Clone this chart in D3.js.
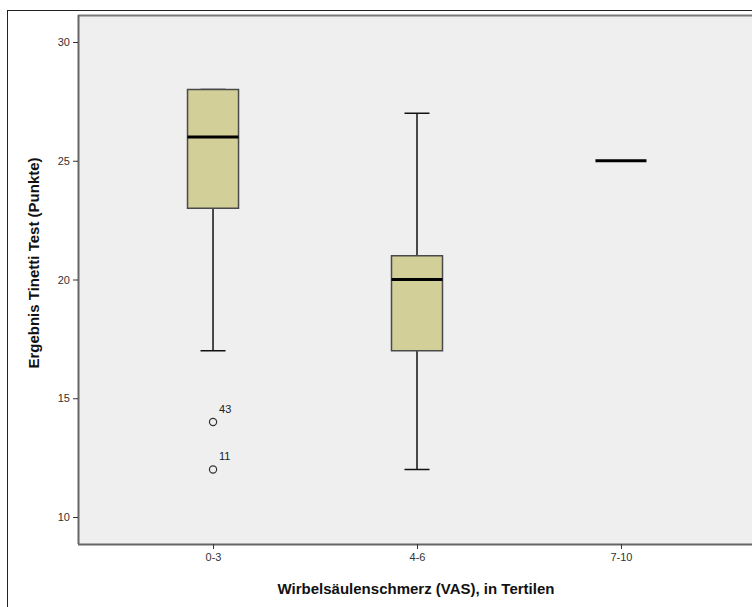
<!DOCTYPE html>
<html>
<head>
<meta charset="utf-8">
<script src="https://cdn.jsdelivr.net/npm/d3@7"></script>
<style>
  html, body { margin: 0; padding: 0; background: #fff; }
  svg { display: block; }
</style>
</head>
<body>
<svg id="chart" width="752" height="607"></svg>
<script>
// Tinetti test result by spinal pain (VAS) tertile
const categories = ["0-3", "4-6", "7-10"];
const whiskerLow = [17, 12, 25];
const q1 = [23, 17, 25];
const median = [26, 20, 25];
const q3 = [28, 21, 25];
const whiskerHigh = [28, 27, 25];
const outlierCategory = ["0-3", "0-3"];
const outlierValue = [14, 12];
const outlierLabel = ["43", "11"];
const yTicks = [10, 15, 20, 25, 30];

const svg = d3.select("#chart");
const W = 752, H = 607;
const plot = { left: 78, top: 15, right: 756, bottom: 544 };
const font = "Arial, 'Liberation Sans', sans-serif";

// outer frame
svg.append("rect")
  .attr("x", 7.5).attr("y", 10.5)
  .attr("width", W + 10).attr("height", H + 10)
  .attr("fill", "#fff").attr("stroke", "#222").attr("stroke-width", 1);

const x = d3.scalePoint().domain(categories)
  .range([plot.left, plot.right]).padding(0.662);
const y = d3.scaleLinear().domain([8.863, 31.137])
  .range([plot.bottom, plot.top]);

// plot background
svg.append("rect")
  .attr("x", plot.left).attr("y", plot.top)
  .attr("width", plot.right - plot.left).attr("height", plot.bottom - plot.top)
  .attr("fill", "#efefef");
svg.append("line")
  .attr("x1", plot.left).attr("x2", plot.right)
  .attr("y1", plot.top + 0.5).attr("y2", plot.top + 0.5)
  .attr("stroke", "#7a7a7a").attr("stroke-width", 2);

// axes
const yAxis = d3.axisLeft(y).tickValues(yTicks).tickSize(5).tickPadding(3);
const gy = svg.append("g").attr("transform", `translate(${plot.left},0)`).call(yAxis);
const xAxis = d3.axisBottom(x).tickSize(5).tickPadding(4);
const gx = svg.append("g").attr("transform", `translate(0,${plot.bottom})`).call(xAxis);
[gy, gx].forEach(g => {
  g.select(".domain").attr("stroke", "#666").attr("stroke-width", 2);
  g.selectAll(".tick line").attr("stroke", "#333");
  g.selectAll(".tick text").attr("fill", "#333")
    .style("font-family", font).style("font-size", "11px");
});
gy.select(".domain").attr("d", `M0.5,${plot.top}V${plot.bottom}`);
gx.select(".domain").attr("d", `M${plot.left},0.5H${plot.right}`);

// boxplots
const boxW = 51, capW = 25;
const boxes = categories.map((c, i) => ({
  c, lo: whiskerLow[i], q1: q1[i], med: median[i], q3: q3[i], hi: whiskerHigh[i]
}));
const g = svg.append("g");
boxes.forEach(b => {
  const cx = x(b.c);
  const degenerate = b.q1 === b.q3;
  if (!degenerate) {
    // whiskers
    [[b.lo, b.q1], [b.q3, b.hi]].forEach(([a, z]) => {
      if (a !== z) {
        g.append("line").attr("x1", cx).attr("x2", cx)
          .attr("y1", y(a)).attr("y2", y(z))
          .attr("stroke", "#111").attr("stroke-width", 1.5);
      }
    });
    [b.lo, b.hi].forEach(v => {
      g.append("line").attr("x1", cx - capW / 2).attr("x2", cx + capW / 2)
        .attr("y1", y(v)).attr("y2", y(v))
        .attr("stroke", "#111").attr("stroke-width", 1.5);
    });
    g.append("rect")
      .attr("x", cx - boxW / 2).attr("y", y(b.q3))
      .attr("width", boxW).attr("height", y(b.q1) - y(b.q3))
      .attr("fill", "#d3cf98").attr("stroke", "#4a4a4a").attr("stroke-width", 1.5);
  }
  g.append("line").attr("x1", cx - boxW / 2).attr("x2", cx + boxW / 2)
    .attr("y1", y(b.med)).attr("y2", y(b.med))
    .attr("stroke", "#000").attr("stroke-width", 3);
});

// outliers
outlierValue.forEach((v, i) => {
  const cx = x(outlierCategory[i]);
  g.append("circle").attr("cx", cx).attr("cy", y(v)).attr("r", 3.6)
    .attr("fill", "none").attr("stroke", "#333").attr("stroke-width", 1.2);
  g.append("text").attr("x", cx + 6).attr("y", y(v) - 9)
    .attr("fill", "#222")
    .style("font-family", font).style("font-size", "11px")
    .text(outlierLabel[i]);
});

// axis titles
svg.append("text")
  .attr("x", 416).attr("y", 594)
  .attr("text-anchor", "middle")
  .style("font-family", font)
  .style("font-size", "15px").style("font-weight", "bold").attr("fill", "#111")
  .text("Wirbelsäulenschmerz (VAS), in Tertilen");
svg.append("text")
  .attr("transform", "translate(39,263) rotate(-90)")
  .attr("text-anchor", "middle")
  .style("font-family", font)
  .style("font-size", "15px").style("font-weight", "bold").attr("fill", "#111")
  .text("Ergebnis Tinetti Test (Punkte)");
</script>
</body>
</html>
